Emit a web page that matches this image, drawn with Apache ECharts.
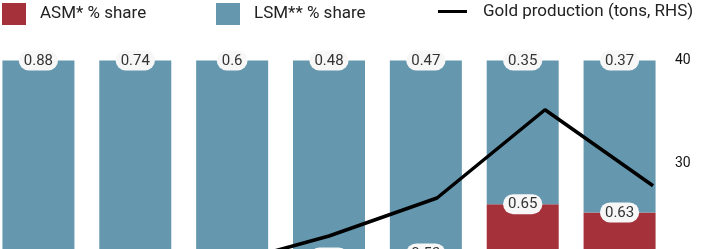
<!DOCTYPE html>
<html>
<head>
<meta charset="utf-8">
<style>
html,body{margin:0;padding:0;overflow:hidden;background:#fff;}
#chart{width:716px;height:520px;margin-left:-10px;}
</style>
<script src="https://cdn.jsdelivr.net/npm/echarts@6/dist/echarts.min.js"></script>
</head>
<body>
<div id="chart"></div>
<script>
// Data
const categories = ['1', '2', '3', '4', '5', '6', '7'];
const asmShare = [0.12, 0.26, 0.4, 0.52, 0.53, 0.65, 0.63];
const lsmShare = [0.88, 0.74, 0.6, 0.48, 0.47, 0.35, 0.37];
const goldProduction = [14, 17, 20, 22.9, 26.6, 35.2, 27.8];
const rightTicks = [0, 10, 20, 30, 40];

const RED = '#a5323b';
const BLUE = '#6598ae';
const FONT = 'Roboto, "Liberation Sans", sans-serif';

const labelStyle = {
  show: true,
  position: 'top',
  distance: -10,
  fontFamily: FONT,
  fontSize: 15,
  color: '#333',
  backgroundColor: '#f7f7f7',
  borderRadius: 10,
  padding: [3, 5, 2, 5],
  formatter: p => String(p.value)
};

const chart = echarts.init(document.getElementById('chart'), null, {renderer: 'canvas'});
chart.setOption({
  animation: false,
  backgroundColor: '#fff',
  textStyle: {fontFamily: FONT},
  legend: [
    {
      data: [{name: 'ASM* % share', icon: 'rect'}],
      left: 7, top: -2,
      itemWidth: 24, itemHeight: 22,
      textStyle: {fontFamily: FONT, fontSize: 17, color: '#222', padding: [0, 0, 0, 9]}
    },
    {
      data: [{name: 'LSM** % share', icon: 'rect'}],
      left: 221, top: -2,
      itemWidth: 24, itemHeight: 22,
      textStyle: {fontFamily: FONT, fontSize: 17, color: '#222', padding: [0, 0, 0, 9]}
    },
    {
      data: [{name: 'Gold production (tons, RHS)', icon: 'rect', itemStyle: {color: '#000'}}],
      left: 443, top: -2,
      itemWidth: 29, itemHeight: 3,
      textStyle: {fontFamily: FONT, fontSize: 17, color: '#222', padding: [0, 0, 0, 11]}
    }
  ],
  grid: [
    {left: 0, width: 678, top: 60.5, height: 410.5},
    {left: 15, width: 648, top: 60.5, height: 410.5}
  ],
  xAxis: [
    {type: 'category', data: categories, gridIndex: 0, show: false},
    {type: 'category', data: categories, gridIndex: 1, boundaryGap: false, show: false}
  ],
  yAxis: [
    {type: 'value', gridIndex: 0, min: 0, max: 1, show: false},
    {
      type: 'value', gridIndex: 1, position: 'right', min: 0, max: 40, interval: 10,
      axisLine: {show: false}, axisTick: {show: false}, splitLine: {show: false},
      axisLabel: {margin: 22, fontFamily: FONT, fontSize: 14, color: '#111',
        customValues: rightTicks}
    }
  ],
  series: [
    {
      name: 'ASM* % share', type: 'bar', stack: 'share', data: asmShare,
      xAxisIndex: 0, yAxisIndex: 0, barWidth: 72,
      itemStyle: {color: RED}, label: labelStyle, z: 2
    },
    {
      name: 'LSM** % share', type: 'bar', stack: 'share', data: lsmShare,
      xAxisIndex: 0, yAxisIndex: 0, barWidth: 72,
      itemStyle: {color: BLUE}, label: labelStyle, z: 2
    },
    {
      name: 'Gold production (tons, RHS)', type: 'line', data: goldProduction,
      xAxisIndex: 1, yAxisIndex: 1, showSymbol: false, symbol: 'none',
      lineStyle: {color: '#000', width: 3.5}, itemStyle: {color: '#000'}, z: 5
    }
  ]
});
</script>
</body>
</html>
